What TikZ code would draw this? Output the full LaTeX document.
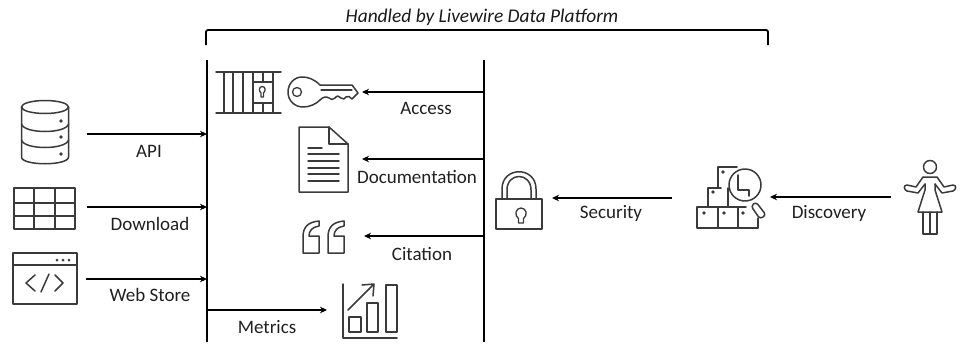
\documentclass[tikz,border=0pt]{standalone}
\usepackage{fontspec}
\setmainfont{Carlito}
\usetikzlibrary{arrows.meta}
\definecolor{icon}{HTML}{3A3A3A}
\tikzset{
  ic/.style={draw=icon,line width=1.5pt,line join=round,line cap=round},
  icthin/.style={draw=icon,line width=1.3pt,line join=round,line cap=round},
  bar/.style={draw=black,line width=1.8pt},
  conn/.style={draw=black,line width=1.8pt,-{Stealth[length=7pt,width=6.5pt]}},
  lab/.style={inner sep=0pt,text=black!88,font=\fontsize{19}{22}\selectfont},
  title/.style={inner sep=0pt,text=black!90,font=\fontsize{19.4}{22}\selectfont\itshape}
}
\begin{document}
\begin{tikzpicture}[x=1pt,y=-1pt]
\useasboundingbox (0,0) rectangle (961,343);
% named ends
\coordinate (lt) at (207,60); \coordinate (lb) at (207,342);
\coordinate (rt) at (484,60); \coordinate (rb) at (484,342);
\coordinate (apiS) at (87,134); \coordinate (apiE) at (207,134);
\coordinate (dlS) at (87,207); \coordinate (dlE) at (207,207);
\coordinate (wsS) at (86,279); \coordinate (wsE) at (207,279);
\coordinate (meS) at (207,310); \coordinate (meE) at (327,310);
\coordinate (acS) at (484,92); \coordinate (acE) at (362,92);
\coordinate (doS) at (484,159); \coordinate (doE) at (362,159);
\coordinate (ciS) at (484,236); \coordinate (ciE) at (364,236);
\coordinate (seS) at (672,198); \coordinate (seE) at (552,198);
\coordinate (diS) at (891,197); \coordinate (diE) at (770,197);
% structure
\draw[bar] (lt) -- (lb);
\draw[bar] (rt) -- (rb);
\draw[bar,rounded corners=2pt] (206,45) -- (206,30) -- (768,30) -- (768,45);
\node[title] (t0) at (482,17) {Handled by Livewire Data Platform};
% connectors
\draw[conn] (apiS) -- (apiE);
\draw[conn] (dlS) -- (dlE);
\draw[conn] (wsS) -- (wsE);
\draw[conn] (meS) -- (meE);
\draw[conn] (acS) -- (acE);
\draw[conn] (doS) -- (doE);
\draw[conn] (ciS) -- (ciE);
\draw[conn] (seS) -- (seE);
\draw[conn] (diS) -- (diE);
% labels
\node[lab] (l1) at (149,151) {API};
\node[lab] (l2) at (150,224) {Download};
\node[lab] (l3) at (150,295) {Web Store};
\node[lab] (l4) at (426,108) {Access};
\node[lab] (l5) at (417,177) {Documentation};
\node[lab] (l6) at (422,254) {Citation};
\node[lab] (l7) at (267,327) {Metrics};
\node[lab] (l8) at (611,213) {Security};
\node[lab] (l9) at (829,213) {Discovery};
% database
\draw[ic] (45,107) ellipse (23.5 and 6.5);
\draw[ic] (21.5,107) -- (21.5,157) .. controls (21.5,166) and (68.5,166) .. (68.5,157) -- (68.5,107);
\draw[ic] (21.5,124) .. controls (24,134) and (66,134) .. (68.5,124);
\draw[ic] (21.5,140) .. controls (24,150) and (66,150) .. (68.5,140);
\fill[icon] (61,121) circle (1.9) (61,137) circle (1.9) (61,154) circle (1.9);
% table
\draw[ic] (14,188) rectangle (75,229);
\draw[ic] (34,188) -- (34,229) (55,188) -- (55,229) (14,203) -- (75,203) (14,216) -- (75,216);
% window
\draw[ic] (13,253) rectangle (77,304);
\draw[ic] (13,265) -- (77,265);
\fill[icon] (57,260) circle (1.5) (63,260) circle (1.5) (69,260) circle (1.5);
\draw[ic] (35,275) -- (26,283) -- (35,291);
\draw[ic] (49,274) -- (41,292);
\draw[ic] (55,275) -- (63,283) -- (55,291);
% gate
\draw[ic] (216,72) -- (281,72) (216,113) -- (281,113);
\foreach \vx in {224,233,243,253,273}{\draw[ic] (\vx,72) -- (\vx,113);}
\draw[ic] (263,72) -- (263,82) (263,103) -- (263,113);
\draw[ic] (253,82) -- (273,82) (253,103) -- (273,103);
\draw[icthin] (261,97) -- (263.5,97) -- (263.5,93) .. controls (266,91) and (265.5,86.5) .. (262.2,86.5) .. controls (259,86.5) and (258.5,91) .. (261,93) -- cycle;
% key
\draw[ic] (320,85) .. controls (314,79) and (308,77) .. (302,77) .. controls (294,77) and (288,84) .. (288,92) .. controls (288,101) and (295,107) .. (303,107) .. controls (310,107) and (316,104) .. (320,100)
  .. controls (323,97) and (326,96) .. (329,98) .. controls (331,100) and (333,100) .. (335,98) .. controls (337,95) and (339,96) .. (341,98) .. controls (343,100) and (345,99) .. (346,97) .. controls (348,95) and (350,97) .. (352,99) -- (358,93) -- (352,85) -- cycle;
\draw[icthin] (321,90) -- (352,90);
\draw[icthin] (297,92) circle (4.5);
% document
\draw[ic] (299,127) -- (329,127) -- (348,144) -- (348,192) -- (299,192) -- cycle;
\draw[ic] (329,127) -- (329,144) -- (348,144);
\draw[ic] (308,148) -- (322,148);
\foreach \ly in {154,161,168,174,181}{\draw[ic] (308,\ly) -- (339,\ly);}
% quotes
\foreach \qx in {303,328}{
  \begin{scope}[shift={(\qx,221)}]
  \draw[ic] (16,0) .. controls (5,1) and (0,6) .. (0,16) -- (0,32) -- (16,32) -- (16,15) -- (6,15) .. controls (6,10) and (9,6) .. (16,5) -- cycle;
  \end{scope}
}
% chart
\draw[ic] (343,284) -- (343,338) -- (397,338);
\draw[ic] (349,317) rectangle (361,332);
\draw[ic] (367,303) rectangle (378,332);
\draw[ic] (386,285) rectangle (397,332);
\draw[ic] (348,310) -- (374,284) (362,285) -- (374,284) -- (373,296);
% padlock
\draw[ic] (496,199) -- (542,199) -- (542,229) -- (496,229) -- cycle;
\draw[ic] (502,199) -- (502,189) .. controls (502,166) and (536,166) .. (536,189) -- (536,199);
\draw[ic] (507,199) -- (507,190) .. controls (507,172) and (531,172) .. (531,190) -- (531,199);
\draw[icthin] (518.5,223) -- (523.5,223) -- (523.5,218.5) .. controls (528,215.5) and (526.5,208) .. (521,208) .. controls (515.5,208) and (514,215.5) .. (518.5,218.5) -- cycle;
% boxes with magnifier
\draw[ic] (697,207) rectangle (718,228);
\draw[ic] (718,207) rectangle (738,228);
\draw[ic] (738,228) -- (758,228) -- (758,218);
\draw[ic] (708,207) -- (708,188) -- (721,188);
\draw[ic] (728,207) -- (728,188);
\draw[ic] (718,188) -- (718,167) -- (737,167);
\draw[ic] (738,207) -- (746,207);
\fill[icon] (723,172) circle (1.9) (713,192) circle (1.9) (704,213) circle (1.9) (724,213) circle (1.9) (743,213) circle (1.9);
\draw[ic,fill=white] (745,185) circle (16);
\draw[ic] (738,175) -- (738,190) -- (749,190) -- (749,196);
\draw[ic,fill=white,rounded corners=3pt] (751,206) -- (756,202) -- (766,215) -- (760,219) -- cycle;
% person
\draw[ic] (930,167) circle (6.5);
\draw[ic] (923,177) -- (937,177) -- (944,187) -- (953,185) .. controls (957,185) and (956,190) .. (953,191) -- (942,193) -- (935,184);
\draw[ic] (923,177) -- (916,187) -- (907,185) .. controls (903,185) and (904,190) .. (907,191) -- (918,193) -- (925,184);
\draw[ic] (925,184) -- (925,190) -- (918,212) -- (942,212) -- (935,190) -- (935,184);
\draw[ic] (923,212) -- (923,234) -- (937,234) -- (937,212) (930,212) -- (930,234);
\end{tikzpicture}
\end{document}
